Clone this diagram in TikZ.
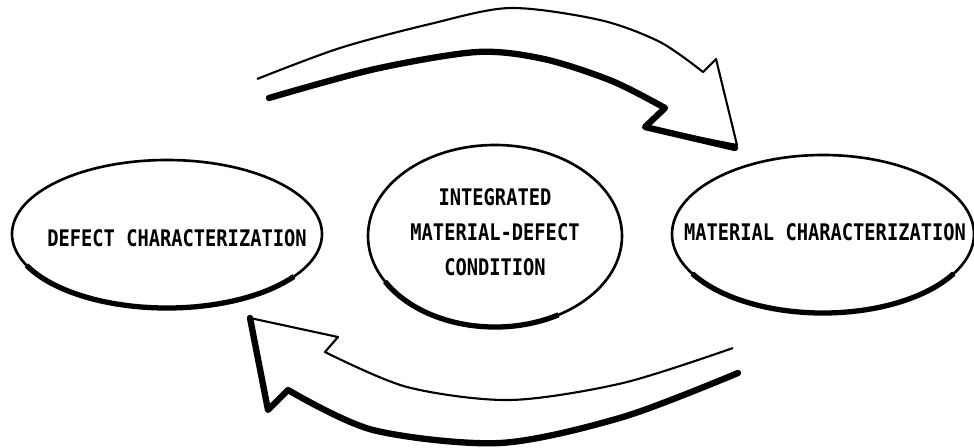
\documentclass[tikz,border=0pt]{standalone}
\usepackage{fontspec}
\newfontfamily\plainmono[FakeStretch=0.82]{DejaVu Sans Mono}
\usetikzlibrary{arrows}

\begin{document}
\begin{tikzpicture}[x=0.02cm,y=-0.02cm,
  rim/.style={line width=1.2pt,line join=round},
  shadow/.style={line width=3.6pt,line join=round,line cap=round},
  oval/.style={line width=1.5pt},
  ovalshadow/.style={line width=3pt},
  caption/.style={font=\plainmono\bfseries\fontsize{13}{20}\selectfont,align=center}]
\useasboundingbox (0,0) rectangle (974,447);
\draw[oval] (167,234) ellipse [x radius=155,y radius=74];
\draw[ovalshadow] (167,234) ++(35:155 and 74) arc [start angle=35,end angle=155,x radius=155,y radius=74];
\node[caption] (defect) at (177,238) {DEFECT CHARACTERIZATION};
\draw[oval] (495,236) ellipse [x radius=127,y radius=91];
\draw[ovalshadow] (495,236) ++(60:127 and 91) arc [start angle=60,end angle=150,x radius=127,y radius=91];
\node[caption] (integrated) at (495,232) {INTEGRATED\\MATERIAL-DEFECT\\CONDITION};
\draw[oval] (823,234) ellipse [x radius=151,y radius=79];
\draw[ovalshadow] (823,234) ++(30:151 and 79) arc [start angle=30,end angle=150,x radius=151,y radius=79];
\node[caption] (material) at (825,232) {MATERIAL CHARACTERIZATION};
\draw[rim] plot[smooth] coordinates {(257,79) (340,48) (430,24) (510,8) (600,20) (660,42) (703,72)} -- (716,59) -- (737,145) -- (645,127) -- (665,108);
\draw[shadow] plot[smooth] coordinates {(269,98) (375,69) (477,52) (544,59) (612,81) (665,108)} -- (645,127) -- (735,148);
\draw[rim] plot[smooth] coordinates {(733,348) (623,383) (510,400) (407,387) (325,352)} -- (338,337) -- (250,318);
\draw[shadow] plot[smooth] coordinates {(738,373) (623,417) (500,443) (373,430) (288,390)} -- (268,410) -- (250,318);
\end{tikzpicture}
\end{document}
